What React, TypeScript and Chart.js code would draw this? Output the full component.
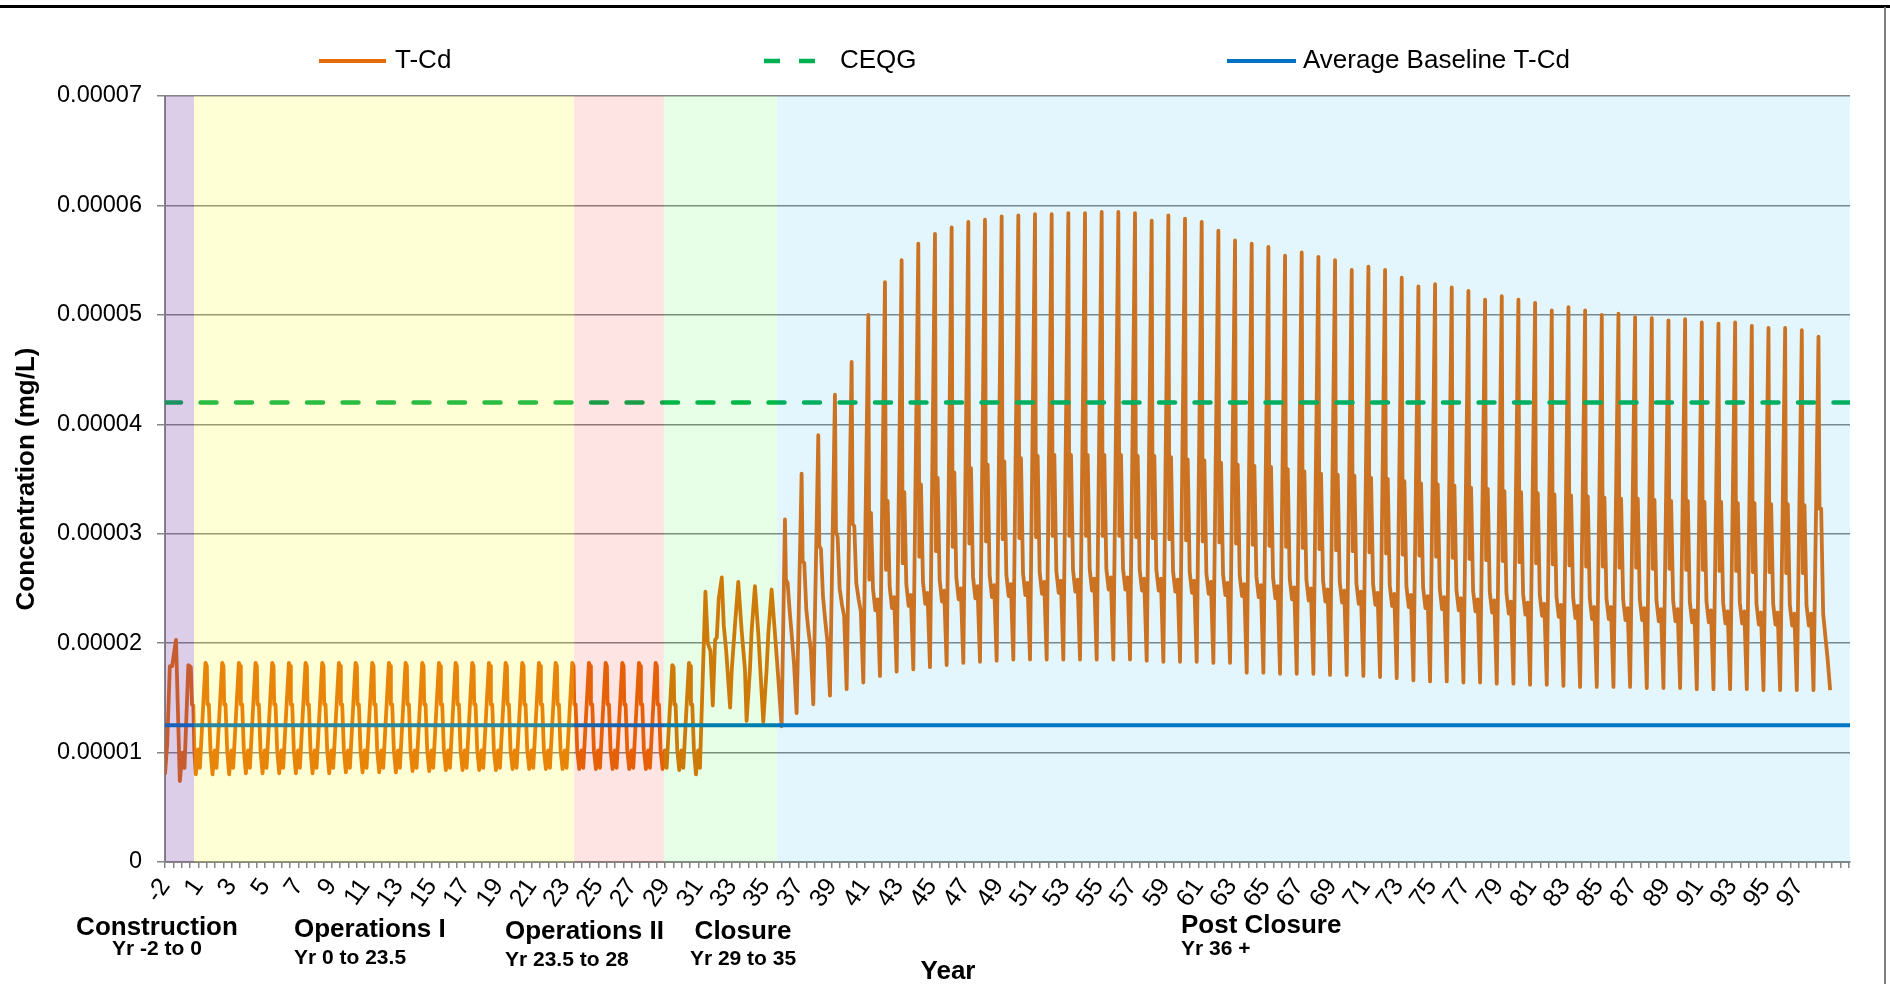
import React, { useEffect, useRef } from 'react';
import { Chart, registerables } from 'chart.js';

Chart.register(...registerables);

const UNIT = 0.00001;

// ---------- axes ----------
const xMin = -2;
const xMax = 99.08;
const xTickPositions = [-2, 0, 2, 4, 6, 8, 10, 12, 14, 16, 18, 20, 22, 24, 26, 28, 30, 32, 34, 36, 38, 40, 42, 44, 46, 48, 50, 52, 54, 56, 58, 60, 62, 64, 66, 68, 70, 72, 74, 76, 78, 80, 82, 84, 86, 88, 90, 92, 94, 96];
const xTickLabels = ['-2', '1', '3', '5', '7', '9', '11', '13', '15', '17', '19', '21', '23', '25', '27', '29', '31', '33', '35', '37', '39', '41', '43', '45', '47', '49', '51', '53', '55', '57', '59', '61', '63', '65', '67', '69', '71', '73', '75', '77', '79', '81', '83', '85', '87', '89', '91', '93', '95', '97'];
const yTickValues = [0, 0.00001, 0.00002, 0.00003, 0.00004, 0.00005, 0.00006, 0.00007];
const yTickLabels = ['0', '0.00001', '0.00002', '0.00003', '0.00004', '0.00005', '0.00006', '0.00007'];

// ---------- reference lines ----------
const ceqgValue = 0.000042;
const baselineValue = 0.0000125;

// ---------- phases ----------
const phaseNames = ['Construction', 'Operations I', 'Operations II', 'Closure', 'Post Closure'];
const phaseYears = ['Yr -2 to 0', 'Yr 0 to 23.5', 'Yr 23.5 to 28', 'Yr 29 to 35', 'Yr 36 +'];
const phaseStart = [-2, -0.26, 22.54, 27.93, 34.72];
const phaseEnd = [-0.26, 22.54, 27.93, 34.72, 99.08];

// ---------- T-Cd series (values in 1e-5 mg/L) ----------
const constructionT = [-2.0, -1.87, -1.71, -1.57, -1.34, -1.11, -0.95, -0.83, -0.6, -0.45, -0.38, -0.3, -0.24, -0.15, -0.02, 0.09];
const constructionV = [0.80, 1.07, 1.79, 1.79, 2.03, 0.74, 1.00, 0.86, 1.80, 1.78, 1.44, 1.43, 1.02, 0.80, 1.03, 0.86];

const opsFirstPeak = 0.43;
const opsPeak = [1.82, 1.82, 1.82, 1.82, 1.82, 1.82, 1.82, 1.82, 1.82, 1.82, 1.82, 1.82, 1.82, 1.82, 1.82, 1.82, 1.82, 1.82, 1.82, 1.82, 1.82, 1.82, 1.82, 1.82, 1.82, 1.82, 1.82, 1.82, 1.80, 1.82];
const opsPlateau = [1.79, 1.79, 1.79, 1.79, 1.79, 1.79, 1.79, 1.79, 1.79, 1.79, 1.79, 1.79, 1.79, 1.79, 1.79, 1.79, 1.79, 1.79, 1.79, 1.79, 1.79, 1.79, 1.79, 1.79, 1.79, 1.79, 1.79, 1.79, 1.78, 1.79];
const opsShoulder = [1.44, 1.44, 1.44, 1.44, 1.44, 1.44, 1.44, 1.44, 1.44, 1.44, 1.44, 1.44, 1.44, 1.44, 1.44, 1.44, 1.44, 1.44, 1.44, 1.44, 1.44, 1.44, 1.44, 1.44, 1.44, 1.44, 1.44, 1.44, 1.44, 1.44];
const opsDesc = [1.02, 1.02, 1.02, 1.02, 1.02, 1.02, 1.02, 1.02, 1.02, 1.02, 1.02, 1.02, 1.02, 1.02, 1.02, 1.02, 1.02, 1.02, 1.02, 1.02, 1.02, 1.02, 1.02, 1.02, 1.02, 1.02, 1.02, 1.02, 1.02, 1.02];
const opsTrough = [0.80, 0.80, 0.81, 0.81, 0.81, 0.81, 0.81, 0.81, 0.82, 0.82, 0.82, 0.82, 0.83, 0.83, 0.84, 0.84, 0.84, 0.84, 0.85, 0.85, 0.85, 0.85, 0.85, 0.85, 0.85, 0.85, 0.85, 0.85, 0.84, 0.80];
const opsBump = [1.02, 1.02, 1.02, 1.02, 1.02, 1.02, 1.02, 1.02, 1.02, 1.02, 1.02, 1.02, 1.02, 1.02, 1.02, 1.02, 1.02, 1.02, 1.02, 1.02, 1.02, 1.02, 1.02, 1.02, 1.02, 1.02, 1.02, 1.02, 1.02, 1.02];
const opsLow = [0.86, 0.86, 0.86, 0.86, 0.86, 0.86, 0.86, 0.86, 0.86, 0.86, 0.86, 0.86, 0.86, 0.86, 0.86, 0.86, 0.86, 0.86, 0.86, 0.86, 0.86, 0.86, 0.86, 0.86, 0.86, 0.86, 0.86, 0.86, 0.86, 0.86];

const closureT = [30.42, 30.56, 30.72, 30.86, 31.0, 31.1, 31.22, 31.4, 31.52, 31.66, 31.9, 32.0, 32.19, 32.39, 32.59, 32.79, 32.89, 33.09, 33.19, 33.39, 33.59, 33.89, 34.09, 34.19, 34.39, 34.59, 34.79, 34.99];
const closureV = [2.47, 2.00, 1.93, 1.43, 2.03, 2.05, 2.41, 2.60, 2.16, 1.94, 1.41, 1.76, 2.16, 2.56, 2.12, 1.76, 1.29, 1.76, 2.11, 2.52, 2.09, 1.28, 1.76, 2.08, 2.49, 2.09, 1.68, 1.24];

const postFirstSpike = 35.19;
const postPeak = [3.13, 3.55, 3.90, 4.27, 4.57, 5.00, 5.30, 5.50, 5.65, 5.74, 5.80, 5.85, 5.87, 5.90, 5.91, 5.92, 5.92, 5.93, 5.93, 5.94, 5.94, 5.93, 5.86, 5.91, 5.88, 5.85, 5.77, 5.68, 5.65, 5.62, 5.54, 5.57, 5.53, 5.50, 5.41, 5.44, 5.41, 5.34, 5.26, 5.28, 5.25, 5.22, 5.14, 5.17, 5.14, 5.11, 5.04, 5.07, 5.04, 5.00, 5.01, 4.98, 4.97, 4.95, 4.96, 4.93, 4.92, 4.93, 4.90, 4.88, 4.88, 4.86, 4.80];
const postDip = [2.58, 2.75, 2.89, 3.02, 3.09, 2.58, 2.67, 2.73, 2.79, 2.84, 2.88, 2.91, 2.93, 2.95, 2.96, 2.97, 2.98, 2.98, 2.98, 2.98, 2.98, 2.97, 2.96, 2.95, 2.94, 2.93, 2.92, 2.91, 2.90, 2.89, 2.88, 2.87, 2.86, 2.85, 2.84, 2.83, 2.82, 2.81, 2.80, 2.79, 2.78, 2.77, 2.76, 2.75, 2.74, 2.73, 2.72, 2.71, 2.70, 2.70, 2.69, 2.69, 2.68, 2.68, 2.67, 2.67, 2.66, 2.66, 2.65, 2.65, 2.64, 2.64, 3.23];
const postSecond = [2.55, 2.73, 2.86, 2.97, 3.07, 3.19, 3.30, 3.38, 3.45, 3.51, 3.56, 3.60, 3.63, 3.66, 3.69, 3.71, 3.72, 3.72, 3.72, 3.72, 3.72, 3.71, 3.71, 3.70, 3.68, 3.67, 3.65, 3.63, 3.62, 3.61, 3.59, 3.57, 3.55, 3.54, 3.53, 3.51, 3.50, 3.48, 3.46, 3.45, 3.44, 3.42, 3.41, 3.39, 3.38, 3.37, 3.36, 3.35, 3.34, 3.33, 3.32, 3.32, 3.31, 3.30, 3.30, 3.29, 3.29, 3.28, 3.28, 3.27, 3.27, 3.26, 3.23];
const postMid1 = [2.30, 2.31, 2.43, 2.50, 2.55, 2.50, 2.52, 2.54, 2.56, 2.58, 2.60, 2.61, 2.62, 2.63, 2.64, 2.65, 2.66, 2.67, 2.68, 2.68, 2.68, 2.67, 2.67, 2.66, 2.65, 2.64, 2.63, 2.62, 2.61, 2.60, 2.59, 2.58, 2.57, 2.56, 2.55, 2.54, 2.53, 2.52, 2.51, 2.50, 2.49, 2.48, 2.47, 2.46, 2.45, 2.44, 2.43, 2.42, 2.41, 2.41, 2.40, 2.40, 2.39, 2.39, 2.38, 2.38, 2.37, 2.37, 2.36, 2.36, 2.35, 2.35, 2.27];
const postMid2 = [2.05, 2.10, 2.20, 2.35, 2.40, 2.30, 2.32, 2.34, 2.36, 2.38, 2.40, 2.41, 2.42, 2.43, 2.44, 2.45, 2.46, 2.47, 2.48, 2.49, 2.49, 2.48, 2.48, 2.47, 2.46, 2.45, 2.44, 2.43, 2.42, 2.41, 2.40, 2.39, 2.38, 2.37, 2.36, 2.35, 2.34, 2.33, 2.32, 2.31, 2.30, 2.29, 2.28, 2.27, 2.26, 2.25, 2.24, 2.23, 2.22, 2.22, 2.21, 2.21, 2.20, 2.20, 2.19, 2.19, 2.18, 2.18, 2.17, 2.17, 2.16, 2.16, 2.05];
const postBump = [1.80, 1.94, 2.01, 2.25, 2.29, 2.40, 2.42, 2.44, 2.46, 2.48, 2.50, 2.52, 2.53, 2.54, 2.55, 2.56, 2.57, 2.58, 2.59, 2.60, 2.60, 2.59, 2.59, 2.58, 2.57, 2.56, 2.55, 2.54, 2.53, 2.52, 2.51, 2.50, 2.49, 2.48, 2.47, 2.46, 2.45, 2.44, 2.43, 2.42, 2.41, 2.40, 2.39, 2.38, 2.37, 2.36, 2.35, 2.34, 2.33, 2.33, 2.32, 2.32, 2.31, 2.31, 2.30, 2.30, 2.29, 2.29, 2.28, 2.28, 2.27, 2.27, 1.85];
const postTrough = [1.36, 1.44, 1.52, 1.58, 1.64, 1.70, 1.74, 1.76, 1.78, 1.80, 1.82, 1.83, 1.84, 1.85, 1.85, 1.85, 1.85, 1.85, 1.85, 1.85, 1.85, 1.84, 1.83, 1.83, 1.83, 1.82, 1.82, 1.73, 1.73, 1.72, 1.72, 1.72, 1.71, 1.71, 1.70, 1.69, 1.68, 1.66, 1.65, 1.65, 1.64, 1.64, 1.63, 1.63, 1.62, 1.62, 1.61, 1.60, 1.60, 1.60, 1.60, 1.59, 1.59, 1.59, 1.58, 1.58, 1.58, 1.58, 1.57, 1.57, 1.57, 1.57, 1.57];

const OPS_SHAPE = [0, 0.08, 0.12, 0.2, 0.3, 0.42, 0.55, 0.66];
const POST_SHAPE = [0, 0.06, 0.16, 0.28, 0.42, 0.55, 0.7];

function buildTcd() {
  const pts: { x: number; y: number }[] = [];
  constructionT.forEach((t, i) => pts.push({ x: t, y: constructionV[i] * UNIT }));
  opsPeak.forEach((_, k) => {
    const p = opsFirstPeak + k;
    const vals = [opsPeak[k], opsPlateau[k], opsShoulder[k], opsShoulder[k], opsDesc[k], opsTrough[k], opsBump[k], opsLow[k]];
    vals.forEach((v, j) => pts.push({ x: p + OPS_SHAPE[j], y: v * UNIT }));
  });
  closureT.forEach((t, i) => pts.push({ x: t, y: closureV[i] * UNIT }));
  postPeak.forEach((_, k) => {
    const p = postFirstSpike + k;
    const vals = [postPeak[k], postDip[k], postSecond[k], postMid1[k], postMid2[k], postBump[k], postTrough[k]];
    vals.forEach((v, j) => pts.push({ x: p + POST_SHAPE[j], y: v * UNIT }));
  });
  return pts;
}

// ---------- styles ----------
const FONT = '"Liberation Sans", Arial, Helvetica, sans-serif';
const COLOR_TCD = '#E46C0A';
const COLOR_CEQG = '#00B050';
const COLOR_BASE = '#0070C0';
const GRID = '#868686';
const phaseOverlay = [
  'rgba(112,48,160,0.245)',
  'rgba(255,255,0,0.165)',
  'rgba(255,0,0,0.106)',
  'rgba(0,255,0,0.098)',
  'rgba(0,176,240,0.11)',
];

const overlayPlugin = {
  id: 'phaseOverlay',
  afterDatasetsDraw(chart: any) {
    const { ctx, chartArea, scales } = chart;
    const xs = scales.x;
    ctx.save();
    phaseStart.forEach((s, i) => {
      const x1 = xs.getPixelForValue(s);
      const x2 = xs.getPixelForValue(phaseEnd[i]);
      ctx.fillStyle = phaseOverlay[i];
      ctx.fillRect(x1, chartArea.top, x2 - x1, chartArea.bottom - chartArea.top);
    });
    ctx.restore();
  },
};

const textPlugin = {
  id: 'texts',
  afterDraw(chart: any) {
    const { ctx } = chart;
    ctx.save();
    ctx.fillStyle = '#000';
    ctx.fillRect(0, 5, 1890, 3);
    ctx.fillStyle = '#7f7f7f';
    ctx.fillRect(1884, 7, 2, 977);

    const ly = 61;
    ctx.lineCap = 'butt';
    ctx.lineWidth = 4;
    ctx.strokeStyle = COLOR_TCD;
    ctx.beginPath(); ctx.moveTo(319, ly); ctx.lineTo(386, ly); ctx.stroke();
    ctx.strokeStyle = COLOR_CEQG;
    ctx.lineWidth = 4.5;
    ctx.setLineDash([16, 19]);
    ctx.beginPath(); ctx.moveTo(764, ly); ctx.lineTo(830, ly); ctx.stroke();
    ctx.setLineDash([]);
    ctx.strokeStyle = COLOR_BASE;
    ctx.lineWidth = 4;
    ctx.beginPath(); ctx.moveTo(1227, ly); ctx.lineTo(1296, ly); ctx.stroke();
    ctx.fillStyle = '#000';
    ctx.font = `26px ${FONT}`;
    ctx.textBaseline = 'middle';
    ctx.textAlign = 'left';
    ctx.fillText('T-Cd', 395, ly);
    ctx.fillText('CEQG', 840, ly);
    ctx.fillText('Average Baseline T-Cd', 1303, ly);

    const titles = [
      { x: 157, y: 928, align: 'center', sy: 949 },
      { x: 294, y: 930, align: 'left', sy: 958 },
      { x: 505, y: 931.5, align: 'left', sy: 960.5 },
      { x: 743, y: 931.5, align: 'center', sy: 959 },
      { x: 1181, y: 925.5, align: 'left', sy: 949.5 },
    ];
    titles.forEach((t, i) => {
      ctx.textAlign = t.align;
      ctx.font = `bold 26px ${FONT}`;
      ctx.fillText(phaseNames[i], t.x, t.y);
      ctx.font = `bold 21px ${FONT}`;
      ctx.fillText(phaseYears[i], t.x, t.sy);
    });
    ctx.textAlign = 'center';
    ctx.font = `bold 26px ${FONT}`;
    ctx.fillText('Year', 948, 972);
    ctx.restore();
  },
};

export default function App() {
  const ref = useRef<HTMLCanvasElement>(null);
  useEffect(() => {
    Chart.defaults.font.family = FONT;
    const edge = [xMin, xMax];
    const chart = new Chart(ref.current as HTMLCanvasElement, {
      type: 'line',
      data: {
        datasets: [
          {
            label: 'T-Cd',
            data: buildTcd(),
            borderColor: COLOR_TCD,
            borderWidth: 3.8,
            pointRadius: 0,
            tension: 0,
            borderJoinStyle: 'round',
            order: 3,
          },
          {
            label: 'CEQG',
            data: edge.map((x) => ({ x, y: ceqgValue })),
            borderColor: COLOR_CEQG,
            borderWidth: 4.5,
            borderDash: [16, 19.5],
            borderCapStyle: 'round',
            pointRadius: 0,
            order: 2,
          },
          {
            label: 'Average Baseline T-Cd',
            data: edge.map((x) => ({ x, y: baselineValue })),
            borderColor: COLOR_BASE,
            borderWidth: 4,
            pointRadius: 0,
            order: 1,
          },
        ],
      },
      options: {
        animation: false,
        responsive: false,
        parsing: false,
        normalized: true,
        layout: { padding: { top: 96, right: 40, left: 0, bottom: 0 } },
        plugins: { legend: { display: false }, tooltip: { enabled: false } },
        scales: {
          x: {
            type: 'linear',
            min: xMin,
            max: xMax,
            afterBuildTicks: (scale: any) => {
              const ticks = [];
              for (let v = xMin; v <= xMax; v += 0.5) ticks.push({ value: v });
              scale.ticks = ticks;
            },
            afterFit: (scale: any) => {
              scale.height = 122;
            },
            ticks: {
              autoSkip: false,
              minRotation: 55,
              maxRotation: 55,
              padding: 5,
              color: '#000',
              font: { size: 25 },
              callback: (value: any) => {
                const i = xTickPositions.indexOf(value);
                return i >= 0 ? xTickLabels[i] : '';
              },
            },
            grid: { drawOnChartArea: false, drawTicks: true, tickLength: 6, color: GRID, lineWidth: 1.5 },
            border: { display: true, color: GRID, width: 2 },
          },
          y: {
            min: 0,
            max: 0.00007,
            afterBuildTicks: (scale: any) => {
              scale.ticks = yTickValues.map((v) => ({ value: v }));
            },
            afterFit: (scale: any) => {
              scale.width = 165;
            },
            ticks: {
              padding: 15,
              color: '#000',
              font: { size: 23.5 },
              callback: (_v: any, i: number) => yTickLabels[i],
            },
            grid: { color: GRID, lineWidth: 1.5, tickLength: 8 },
            border: { display: true, color: GRID, width: 2 },
            title: {
              display: true,
              text: 'Concentration (mg/L)',
              color: '#000',
              font: { size: 26, weight: 'bold' },
              padding: { top: 11, bottom: 0 },
            },
          },
        },
      },
      plugins: [overlayPlugin, textPlugin],
    } as any);
    return () => chart.destroy();
  }, []);
  return (
    <div style={{ position: 'fixed', left: 0, top: 0, width: 1890, height: 984, background: '#fff' }}>
      <canvas ref={ref} width={1890} height={984} style={{ display: 'block', width: 1890, height: 984 }} />
    </div>
  );
}
